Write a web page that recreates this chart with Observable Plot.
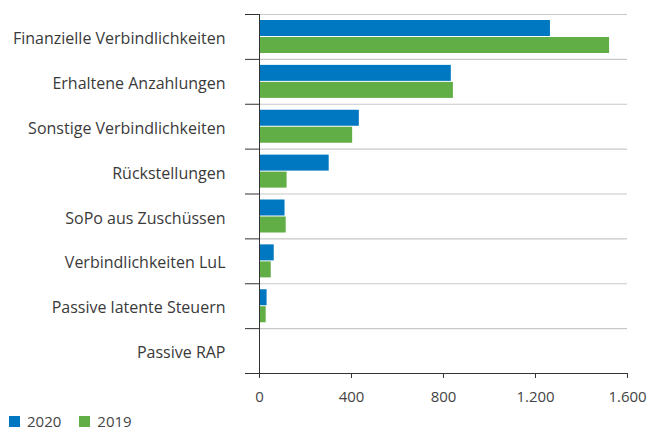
<!DOCTYPE html>
<html>
<head>
<meta charset="utf-8">
<script src="https://cdn.jsdelivr.net/npm/d3@7"></script>
<script src="https://cdn.jsdelivr.net/npm/@observablehq/plot@0.6"></script>
<style>
  html, body { margin: 0; padding: 0; background: #fff; }
  body { width: 652px; height: 432px; overflow: hidden; font-family: "Open Sans", sans-serif; }
  #legend { display: flex; align-items: center; height: 22px; padding-left: 9px; font-size: 15px; color: #444; }
  .item { display: flex; align-items: center; margin-right: 18px; }
  .sw { width: 11px; height: 11px; margin-right: 7px; }
</style>
</head>
<body>
<div id="chart"></div>
<div id="legend"></div>
<script>
const categories = [
  "Finanzielle Verbindlichkeiten",
  "Erhaltene Anzahlungen",
  "Sonstige Verbindlichkeiten",
  "Rückstellungen",
  "SoPo aus Zuschüssen",
  "Verbindlichkeiten LuL",
  "Passive latente Steuern",
  "Passive RAP"
];
const values2020 = [1265, 834, 434, 303, 111, 64, 33, 0];
const values2019 = [1522, 843, 405, 120, 116, 51, 29, 0];
const years = ["2020", "2019"];
const colors = ["#0078c1", "#60ae45"];
const xTicks = [0, 400, 800, 1200, 1600];

const rows2020 = categories.map((c, i) => ({category: c, value: values2020[i], year: "2020"}));
const rows2019 = categories.map((c, i) => ({category: c, value: values2019[i], year: "2019"}));

const de = d3.formatLocale({decimal: ",", thousands: ".", grouping: [3], currency: ["", " €"]});
const fmt = de.format(",");

const W = 652, H = 410, mt = 14, mb = 37, ml = 259, mr = 25;
const step = (H - mt - mb) / categories.length;
const half = step / 2;

const chart = Plot.plot({
  width: W,
  height: H,
  marginTop: mt,
  marginBottom: mb,
  marginLeft: ml,
  marginRight: mr,
  style: {fontFamily: "Open Sans, sans-serif", fontSize: "15px", color: "#333", background: "#fff"},
  x: {domain: [0, 1600]},
  y: {domain: categories, padding: 0, round: false},
  marks: [
    Plot.gridY({stroke: "#c8c8c8", strokeOpacity: 1, strokeWidth: 1.2, dy: -half}),
    Plot.axisY({tickSize: 14, tickFormat: () => "", stroke: "#333", strokeOpacity: 1, dy: -half, label: null}),
    Plot.axisY({ticks: [categories[categories.length - 1]], tickSize: 14, tickFormat: () => "", stroke: "#333", strokeOpacity: 1, dy: half, label: null}),
    Plot.axisY({tickSize: 0, tickPadding: 34, fill: "#3a3a3a", fontSize: 16, dy: 2, label: null}),
    Plot.barX(rows2020, {x: "value", y: "category", fill: colors[0], insetTop: 6, insetBottom: step - 22}),
    Plot.barX(rows2019, {x: "value", y: "category", fill: colors[1], insetTop: 23, insetBottom: step - 39}),
    Plot.frame({anchor: "bottom", stroke: "#333"}),
    Plot.ruleX([0], {stroke: "#333"}),
    Plot.axisX({ticks: xTicks, tickSize: 5, tickPadding: 13, tickFormat: fmt, stroke: "#333", fill: "#444", fontSize: 15, label: null})
  ]
});
document.getElementById("chart").appendChild(chart);

const legend = document.getElementById("legend");
years.forEach((y, i) => {
  const it = document.createElement("div");
  it.className = "item";
  const sw = document.createElement("div");
  sw.className = "sw";
  sw.style.background = colors[i];
  const t = document.createElement("span");
  t.textContent = y;
  it.appendChild(sw);
  it.appendChild(t);
  legend.appendChild(it);
});
</script>
</body>
</html>
